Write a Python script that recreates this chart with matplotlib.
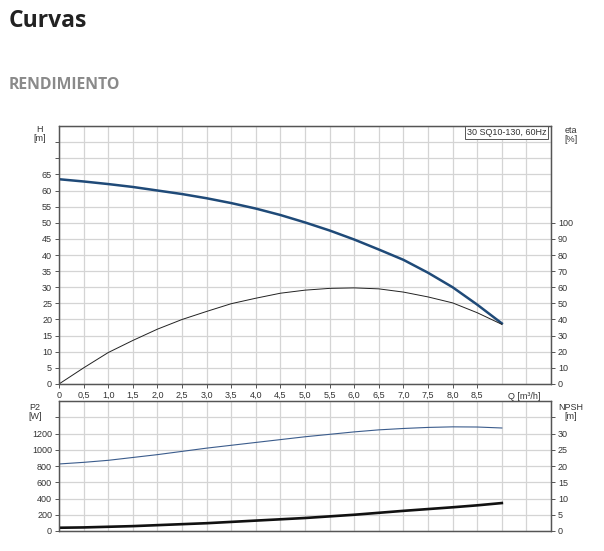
import numpy as np
import matplotlib.pyplot as plt

plt.rcParams['font.family'] = ['Liberation Sans', 'DejaVu Sans']

# flow Q [m3/h]
q = [0, 0.5, 1.0, 1.5, 2.0, 2.5, 3.0, 3.5, 4.0, 4.5, 5.0, 5.5, 6.0, 6.5, 7.0, 7.5, 8.0, 8.5, 9.0]
# head H [m]
head = [63.5, 62.8, 62.0, 61.1, 60.0, 58.9, 57.6, 56.1, 54.4, 52.4, 50.1, 47.6, 44.8, 41.7, 38.5, 34.5, 30.0, 24.6, 18.8]
# efficiency eta [%]
eta = [0, 10, 19.5, 27, 34, 40, 45, 49.8, 53.2, 56.3, 58.2, 59.3, 59.6, 59, 57, 54, 50.3, 44.2, 37]
# shaft power P2 [W]
p2 = [825, 845, 870, 905, 940, 980, 1020, 1055, 1090, 1125, 1160, 1190, 1220, 1245, 1262, 1275, 1282, 1280, 1268]
# NPSH [m]
npsh = [1.0, 1.1, 1.3, 1.5, 1.8, 2.1, 2.4, 2.8, 3.2, 3.6, 4.0, 4.5, 5.0, 5.6, 6.2, 6.75, 7.3, 7.9, 8.6]

xticks = np.arange(0, 9.0, 0.5)
xlabels = ['0'] + [('%.1f' % v).replace('.', ',') for v in xticks[1:]]

grid_c = '#d4d4d4'
frame_c = '#555555'
txt_c = '#333333'
fs = 6.5

fig = plt.figure(figsize=(6.04, 5.51), dpi=100)
fig.text(0.015, 0.962, 'Curvas', fontsize=16.5, fontweight='bold', color='#222222',
         family=['Open Sans', 'DejaVu Sans'], va='center')
fig.text(0.015, 0.845, 'RENDIMIENTO', fontsize=11.3, fontweight='bold', color='#8a8a8a',
         family=['Open Sans', 'DejaVu Sans'], va='center')


def style(ax):
    for s in ax.spines.values():
        s.set_color(frame_c)
        s.set_linewidth(0.9)
    ax.tick_params(colors=frame_c, labelcolor=txt_c, labelsize=fs, length=3, width=0.7, pad=2)


# upper chart: H and eta
ax1 = fig.add_axes([0.0977, 0.3031, 0.8146, 0.4682])
ax1.set_xlim(0, 10)
ax1.set_ylim(0, 80)
ax1.set_xticks(np.arange(0, 10.01, 0.5), minor=True)
ax1.set_yticks(np.arange(0, 80.1, 5), minor=True)
ax1.set_xticks(xticks)
ax1.set_xticklabels(xlabels)
ax1.set_yticks(np.arange(0, 80, 5))
ax1.set_yticklabels([str(v) if v <= 65 else '' for v in range(0, 80, 5)])
ax1.grid(True, which='both', color=grid_c, linewidth=0.9)
ax1.set_axisbelow(True)
ax1.tick_params(which='minor', length=0)
style(ax1)
ax1.plot(q, head, color='#1f4a78', linewidth=1.8, zorder=3)
ax1.text(9.45, -2.4, 'Q [m³/h]', fontsize=fs, color=txt_c, ha='center', va='top')
ax1.text(9.9, 79.4, '30 SQ10-130, 60Hz', fontsize=fs, color=txt_c, ha='right', va='top',
         bbox=dict(facecolor='white', edgecolor=frame_c, linewidth=0.7, pad=1.5), zorder=5)

ax1r = ax1.twinx()
ax1r.set_ylim(0, 160)
ax1r.set_yticks(np.arange(0, 101, 10))
style(ax1r)
ax1r.plot(q, eta, color='#222222', linewidth=0.7)

fig.text(0.066, 0.757, 'H\n[m]', fontsize=fs, color=txt_c, ha='center', va='center', linespacing=1.1)
fig.text(0.945, 0.755, 'eta\n[%]', fontsize=fs, color=txt_c, ha='center', va='center', linespacing=1.1)

# lower chart: P2 and NPSH
ax2 = fig.add_axes([0.0977, 0.0363, 0.8146, 0.2359])
ax2.set_xlim(0, 10)
ax2.set_ylim(0, 1600)
ax2.set_xticks(np.arange(0, 10.01, 0.5))
ax2.set_xticklabels([])
ax2.set_yticks(np.arange(0, 1600, 200))
ax2.set_yticklabels([str(v) if v <= 1200 else '' for v in range(0, 1600, 200)])
ax2.grid(True, color=grid_c, linewidth=0.9)
ax2.set_axisbelow(True)
style(ax2)
ax2.tick_params(axis='x', length=0)
ax2.plot(q, p2, color='#3b5c8c', linewidth=0.8)

ax2r = ax2.twinx()
ax2r.set_ylim(0, 40)
ax2r.set_yticks(np.arange(0, 40, 5))
ax2r.set_yticklabels([str(v) if v <= 30 else '' for v in range(0, 40, 5)])
style(ax2r)
ax2r.plot(q, npsh, color='#111111', linewidth=1.9)

fig.text(0.058, 0.252, 'P2\n[W]', fontsize=fs, color=txt_c, ha='center', va='center', linespacing=1.1)
fig.text(0.945, 0.252, 'NPSH\n[m]', fontsize=fs, color=txt_c, ha='center', va='center', linespacing=1.1)

fig.savefig('out.png', dpi=100)
